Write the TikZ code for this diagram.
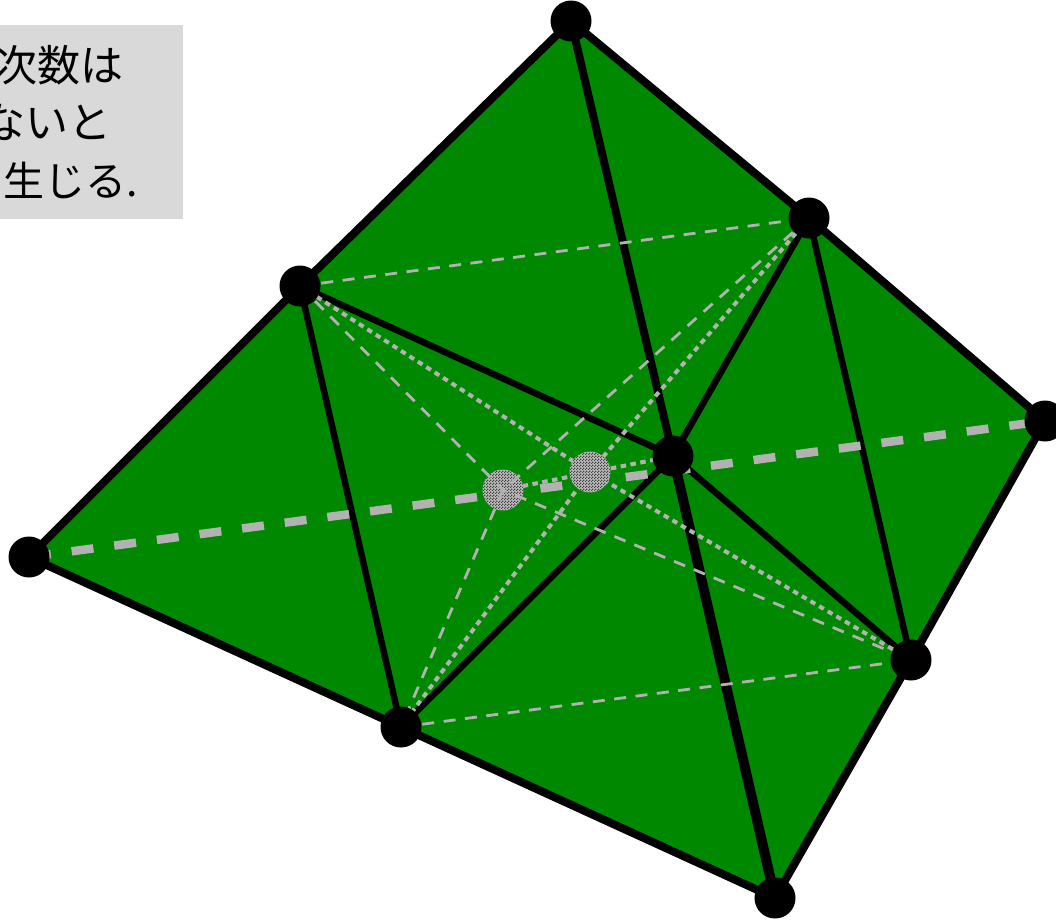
\documentclass[tikz,border=0pt]{standalone}
\usepackage{fontspec}
\setmainfont{Noto Sans CJK JP}
\usetikzlibrary{patterns}
\definecolor{leaf}{RGB}{0,136,0}
\definecolor{boxgray}{RGB}{217,217,217}
\definecolor{linegray}{RGB}{178,178,178}
\definecolor{ghostbase}{RGB}{190,190,190}
\pgfdeclarelayer{lbg}\pgfdeclarelayer{lmid}\pgfdeclarelayer{lthin}
\pgfsetlayers{lbg,lmid,lthin,main}
\pgfdeclarepatternformonly{finecheck}{\pgfqpoint{0pt}{0pt}}{\pgfqpoint{3pt}{3pt}}{\pgfqpoint{3pt}{3pt}}{%
  \pgfpathrectangle{\pgfqpoint{0pt}{0pt}}{\pgfqpoint{1.5pt}{1.5pt}}%
  \pgfpathrectangle{\pgfqpoint{1.5pt}{1.5pt}}{\pgfqpoint{1.5pt}{1.5pt}}%
  \pgfusepath{fill}}
\tikzset{
  vertex/.style={circle,fill=black,draw=none,minimum size=41pt,inner sep=0pt},
  ghost/.style={circle,fill=ghostbase,draw=none,minimum size=41pt,inner sep=0pt,
    postaction={pattern=finecheck,pattern color=black!75}},
  edgeouter/.style={draw=black,line width=8pt,line join=round},
  edgeinner/.style={draw=black,line width=6.5pt},
  edgespine/.style={draw=black,line width=10pt},
  thindash/.style={draw=linegray,line width=2.8pt,dash pattern=on 12pt off 9.5pt},
  dotline/.style={draw=linegray,line width=4pt,dash pattern=on 5.5pt off 4.5pt},
  thickdash/.style={draw=linegray,line width=8.5pt,dash pattern=on 22pt off 21pt},
  jptext/.style={font=\fontsize{43pt}{43pt}\selectfont,inner sep=0pt,anchor=base east,text=black},
  jpsmall/.style={font=\fontsize{41pt}{41pt}\selectfont,inner sep=0pt,anchor=base east,text=black}
}
\begin{document}
\begin{tikzpicture}[x=1pt,y=-1pt]
\useasboundingbox (0,0) rectangle (1056,919);
\node[vertex] (A) at (571,21) {};
\node[vertex] (B) at (809,218) {};
\node[vertex] (C) at (1045,421) {};
\node[vertex] (D) at (911,660) {};
\node[vertex] (E) at (775,898) {};
\node[vertex] (F) at (401,727) {};
\node[vertex] (G) at (29,557) {};
\node[vertex] (H) at (300,286) {};
\node[vertex] (I) at (673,456) {};
\begin{pgfonlayer}{lthin}
\node[ghost] (Q) at (590,472) {};
\end{pgfonlayer}
\begin{pgfonlayer}{lmid}
\node[ghost] (P) at (503,490) {};
\end{pgfonlayer}
\begin{pgfonlayer}{lbg}
\fill[leaf] (G.center) -- (H.center) -- (A.center) -- (B.center) -- (C.center) -- (D.center) -- (E.center) -- (F.center) -- cycle;
\draw[edgeouter] (G.center) -- (H.center) -- (A.center) -- (B.center) -- (C.center) -- (D.center) -- (E.center) -- (F.center) -- cycle;
\draw[edgeinner] (H.center) -- (F.center);
\draw[edgeinner] (H.center) -- (I.center);
\draw[edgeinner] (I.center) -- (F.center);
\draw[edgeinner] (I.center) -- (D.center);
\draw[edgeinner] (I.center) -- (B.center);
\draw[edgeinner] (B.center) -- (D.center);
\draw[edgeouter] (A.center) -- (I.center);
\draw[edgespine] (I.center) -- (E.center);
\draw[thickdash] (G.center) -- (C.center);
\draw[dotline] (H.center) -- (Q.center) -- (D.center);
\draw[dotline] (B.center) -- (Q.center) -- (F.center);
\draw[dotline] (P.center) -- (I.center);
\end{pgfonlayer}
\begin{pgfonlayer}{lthin}
\draw[thindash] (H.center) -- (B.center);
\draw[thindash] (F.center) -- (D.center);
\draw[thindash] (H.center) -- (P.center) -- (D.center);
\draw[thindash] (B.center) -- (P.center) -- (F.center);
\end{pgfonlayer}
\begin{scope}
\clip (0,25) rectangle (183,219);
\fill[boxgray] (0,25) rectangle (183,219);
\node[jptext] (t1) at (124,81) {次数は};
\node[jptext] (t2) at (112,138) {ないと};
\node[jpsmall] (t3) at (138,196) {生じる.};
\end{scope}
\end{tikzpicture}
\end{document}
